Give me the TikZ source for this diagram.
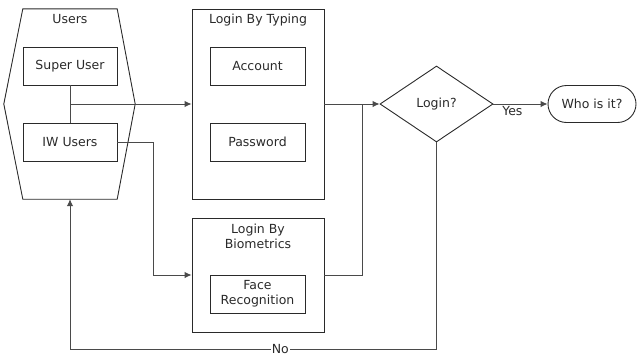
\documentclass[tikz,border=0pt]{standalone}
\usepackage{fontspec}
\setmainfont{DejaVu Sans}
\usetikzlibrary{shapes.geometric,shapes.misc,arrows.meta}
\definecolor{ink}{HTML}{2A2A2A}
\definecolor{wire}{HTML}{4A4A4A}
\begin{document}
\begin{tikzpicture}[x=1pt,y=-1pt,
  font=\fontsize{12.5}{15}\selectfont,
  every node/.style={text=ink},
  box/.style={draw=ink,line width=0.9pt,rectangle,inner sep=0pt},
  inbox/.style={box,minimum width=94pt,minimum height=38pt},
  group/.style={box,minimum width=132pt},
  title/.style={inner sep=0pt,align=center},
  wire/.style={draw=wire,line width=0.9pt},
  arrow/.style={wire,-{Latex[length=7pt,width=6.5pt]}}]
\useasboundingbox (0,0) rectangle (637,356);

% Users group: hexagonal outline around two user boxes
\node[minimum width=94pt,minimum height=190pt,inner sep=0pt] (users) at (70,104) {};
\draw[ink,line width=0.9pt] (users.north west) -- (users.north east)
  -- ([xshift=18pt]users.east) -- (users.south east) -- (users.south west)
  -- ([xshift=-19pt]users.west) -- cycle;
\node[title] (userst) at (70,19) {Users};
\node[inbox] (super) at (70,66) {Super User};
\node[inbox] (iw) at (70,142) {IW Users};

% Login by typing
\node[group,minimum height=190pt] (typing) at (258,104) {};
\node[title] (typingt) at (258,20) {Login By Typing};
\node[inbox,minimum width=95pt] (account) at (257.5,66) {Account};
\node[inbox,minimum width=95pt] (password) at (257.5,142) {Password};

% Login by biometrics
\node[group,minimum height=114pt] (bio) at (258,275) {};
\node[title] (biot) at (258,236) {Login By\\Biometrics};
\node[inbox,minimum width=95pt,align=center] (face) at (257.5,294) {Face\\Recognition};

% Decision and result
\node[diamond,draw=ink,line width=0.9pt,minimum width=113pt,minimum height=76pt,
      inner sep=0pt,aspect=1.49] (login) at (436.5,104) {Login?};
\node[rounded rectangle,draw=ink,line width=0.9pt,minimum width=88pt,
      minimum height=37pt,inner sep=0pt] (who) at (592,104) {Who is it?};

% Connectors
\coordinate (split) at (70,104);
\coordinate (merge) at (362,104);
\draw[wire] (super.south) -- (iw.north);
\draw[arrow] (split) -- (typing.west);
\draw[arrow] (iw.east) -- ++(36,0) |- (bio.west);
\draw[arrow] (typing.east) -- (login.west);
\draw[wire] (bio.east) -| (merge);
\draw[arrow] (login.east) -- node[below,pos=0.35,inner sep=2pt] {Yes} (who.west);
\draw[arrow] (login.south) -- (login.south |- 0,349)
  -| node[pos=0.213,fill=white,inner sep=1pt] {No} (users.south);
\end{tikzpicture}
\end{document}
